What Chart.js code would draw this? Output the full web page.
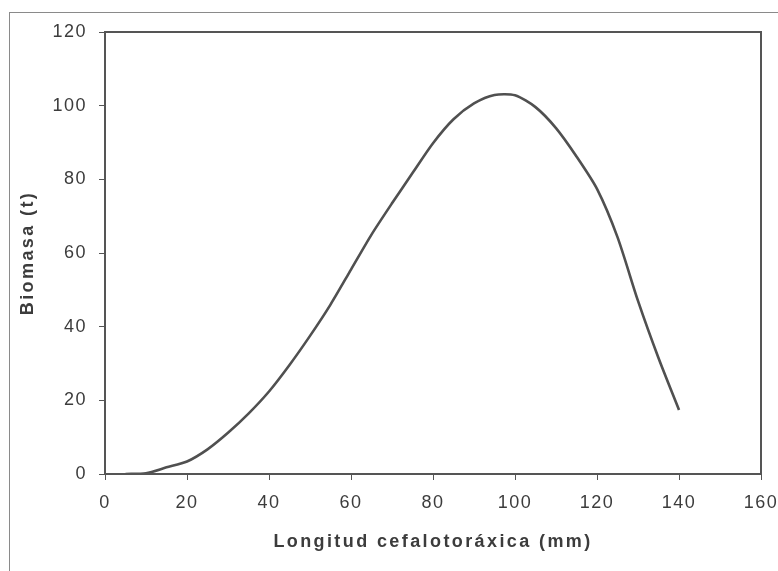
<!DOCTYPE html>
<html>
<head>
<meta charset="utf-8">
<script src="https://cdn.jsdelivr.net/npm/chart.js@4/dist/chart.umd.min.js"></script>
<style>
  html, body { margin: 0; padding: 0; background: #fff; }
  #wrap { position: relative; width: 778px; height: 571px; }
  #frame { position: absolute; left: 9px; top: 12px; right: 0; bottom: 0;
           border-left: 1px solid #8a8a8a; border-top: 1px solid #8a8a8a; }
  #chart { position: absolute; left: 0; top: 0; }
</style>
</head>
<body>
<div id="wrap">
  <div id="frame"></div>
  <canvas id="chart" width="778" height="571"></canvas>
</div>
<script>
// longitud cefalotoráxica (mm) y biomasa (t)
var longitud = [5, 10, 15, 20, 25, 30, 35, 40, 45, 50, 55, 60, 65, 70,
                75, 80, 85, 90, 95, 100, 105, 110, 115, 120, 125, 130, 135, 140];
var biomasa  = [0, 0.2, 1.8, 3.4, 6.7, 11.2, 16.4, 22.4, 29.6, 37.5, 46, 55.5, 65, 73.5,
                81.7, 89.8, 96.3, 100.6, 102.9, 102.8, 99.6, 93.9, 86.2, 77.4, 64.3, 47, 31.5, 17.4];
var xTicks = [0, 20, 40, 60, 80, 100, 120, 140, 160];
var yTicks = [0, 20, 40, 60, 80, 100, 120];

var axisColor = '#555';
var textColor = '#3c3c3c';

var puntos = longitud.map(function(x, i) { return {x: x, y: biomasa[i]}; });

// letter spacing like the original print
var spacing = {
    id: 'spacing',
    beforeDraw: function(chart) {
        chart.ctx.letterSpacing = '1.5px';
        Object.values(chart.scales).forEach(function(scale) {
            if (scale._wrappedTitle) return;
            var orig = scale.drawTitle;
            scale.drawTitle = function() {
                var c = this.ctx;
                c.save();
                c.letterSpacing = '2.4px';
                orig.apply(this, arguments);
                c.restore();
            };
            scale._wrappedTitle = true;
        });
    }
};

// box round the plot area
var frame = {
    id: 'frame',
    afterDraw: function(chart) {
        var a = chart.chartArea, ctx = chart.ctx;
        ctx.save();
        ctx.strokeStyle = axisColor;
        ctx.lineWidth = 2;
        ctx.strokeRect(a.left, a.top, a.right - a.left, a.bottom - a.top);
        ctx.restore();
    }
};

new Chart(document.getElementById('chart').getContext('2d'), {
    type: 'line',
    data: {
        datasets: [{
            data: puntos,
            borderColor: '#505050',
            borderWidth: 2.6,
            pointRadius: 0,
            tension: 0.25,
            fill: false
        }]
    },
    options: {
        responsive: false,
        animation: false,
        layout: { padding: { top: 32, right: 17, left: 0, bottom: 0 } },
        plugins: { legend: { display: false }, tooltip: { enabled: false } },
        scales: {
            x: {
                type: 'linear',
                min: 0, max: 160,
                afterBuildTicks: function(s) { s.ticks = xTicks.map(function(v) { return {value: v}; }); },
                afterFit: function(s) { s.height = 97; s.paddingLeft = 0; s.paddingRight = 0; },
                grid: { drawOnChartArea: false, tickLength: 6, color: axisColor },
                border: { color: axisColor, width: 2 },
                ticks: { color: textColor, padding: 12, maxRotation: 0,
                         font: { family: 'Liberation Sans, Arial', size: 18 } },
                title: { display: true, text: 'Longitud cefalotoráxica (mm)', color: textColor,
                         padding: { top: 0, bottom: 18 },
                         font: { family: 'Liberation Sans, Arial', size: 18, weight: 'bold' } }
            },
            y: {
                min: 0, max: 120,
                afterBuildTicks: function(s) { s.ticks = yTicks.map(function(v) { return {value: v}; }); },
                afterFit: function(s) { s.width = 105; s.paddingTop = 0; s.paddingBottom = 0; },
                grid: { drawOnChartArea: false, tickLength: 6, color: axisColor },
                border: { color: axisColor, width: 2 },
                ticks: { color: textColor, padding: 12,
                         font: { family: 'Liberation Sans, Arial', size: 18 } },
                title: { display: true, text: 'Biomasa (t)', color: textColor,
                         padding: { top: 17, bottom: 0 },
                         font: { family: 'Liberation Sans, Arial', size: 18, weight: 'bold' } }
            }
        }
    },
    plugins: [spacing, frame]
});
</script>
</body>
</html>
